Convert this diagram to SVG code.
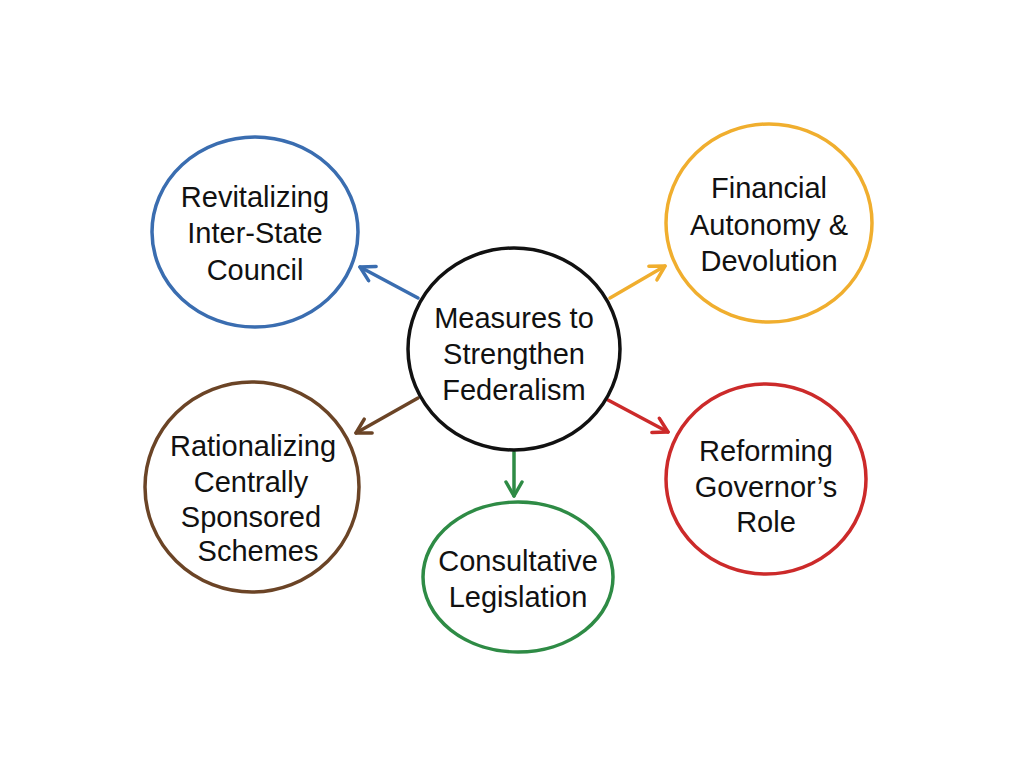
<svg xmlns="http://www.w3.org/2000/svg" width="1024" height="768" viewBox="0 0 1024 768">
<style>
.node{fill:#fff;stroke-width:3.5}
.lbl{font-family:"Liberation Sans","DejaVu Sans",sans-serif;font-size:29px;fill:#111;text-anchor:middle}
.conn{fill:none;stroke-width:3.5;stroke-linecap:round}
</style>
<defs>
<marker id="mB" viewBox="0 0 20 20" refX="17" refY="10" markerWidth="20" markerHeight="20" markerUnits="userSpaceOnUse" orient="auto"><path d="M3,2 L17,10 L3,18" fill="none" stroke="#3a6db0" stroke-width="3.5" stroke-linecap="round" stroke-linejoin="round"/></marker>
<marker id="mO" viewBox="0 0 20 20" refX="17" refY="10" markerWidth="20" markerHeight="20" markerUnits="userSpaceOnUse" orient="auto"><path d="M3,2 L17,10 L3,18" fill="none" stroke="#f0ae2e" stroke-width="3.5" stroke-linecap="round" stroke-linejoin="round"/></marker>
<marker id="mBr" viewBox="0 0 20 20" refX="17" refY="10" markerWidth="20" markerHeight="20" markerUnits="userSpaceOnUse" orient="auto"><path d="M3,2 L17,10 L3,18" fill="none" stroke="#6b4426" stroke-width="3.5" stroke-linecap="round" stroke-linejoin="round"/></marker>
<marker id="mR" viewBox="0 0 20 20" refX="17" refY="10" markerWidth="20" markerHeight="20" markerUnits="userSpaceOnUse" orient="auto"><path d="M3,2 L17,10 L3,18" fill="none" stroke="#cc2a2a" stroke-width="3.5" stroke-linecap="round" stroke-linejoin="round"/></marker>
<marker id="mG" viewBox="0 0 20 20" refX="17" refY="10" markerWidth="20" markerHeight="20" markerUnits="userSpaceOnUse" orient="auto"><path d="M3,2 L17,10 L3,18" fill="none" stroke="#2e8b45" stroke-width="3.5" stroke-linecap="round" stroke-linejoin="round"/></marker>
</defs>
<rect width="1024" height="768" fill="#fff"/>
<g id="connectors">
<line class="conn" x1="418" y1="298" x2="360" y2="267" stroke="#3a6db0" marker-end="url(#mB)"/>
<line class="conn" x1="610" y1="298" x2="665" y2="266" stroke="#f0ae2e" marker-end="url(#mO)"/>
<line class="conn" x1="418" y1="398" x2="356" y2="433" stroke="#6b4426" marker-end="url(#mBr)"/>
<line class="conn" x1="608" y1="400" x2="668" y2="432" stroke="#cc2a2a" marker-end="url(#mR)"/>
<line class="conn" x1="514" y1="452" x2="514" y2="496" stroke="#2e8b45" marker-end="url(#mG)"/>
</g>
<g id="center">
<ellipse class="node" cx="514" cy="349" rx="106" ry="101" stroke="#111"/>
<text class="lbl" x="514" y="328">Measures to</text>
<text class="lbl" x="514" y="364">Strengthen</text>
<text class="lbl" x="514" y="400">Federalism</text>
</g>
<g id="interstate">
<ellipse class="node" cx="255" cy="232" rx="103" ry="95" stroke="#3a6db0"/>
<text class="lbl" x="255" y="207">Revitalizing</text>
<text class="lbl" x="255" y="243">Inter-State</text>
<text class="lbl" x="255" y="280">Council</text>
</g>
<g id="financial">
<ellipse class="node" cx="769" cy="223" rx="103" ry="99" stroke="#f0ae2e"/>
<text class="lbl" x="769" y="198">Financial</text>
<text class="lbl" x="769" y="235">Autonomy &amp;</text>
<text class="lbl" x="769" y="271">Devolution</text>
</g>
<g id="css">
<ellipse class="node" cx="252" cy="487" rx="107" ry="105" stroke="#6b4426"/>
<text class="lbl" x="253" y="456">Rationalizing</text>
<text class="lbl" x="251" y="492">Centrally</text>
<text class="lbl" x="251" y="527">Sponsored</text>
<text class="lbl" x="258" y="561">Schemes</text>
</g>
<g id="governor">
<ellipse class="node" cx="766" cy="479" rx="100" ry="95" stroke="#cc2a2a"/>
<text class="lbl" x="766" y="461">Reforming</text>
<text class="lbl" x="766" y="497">Governor’s</text>
<text class="lbl" x="766" y="532">Role</text>
</g>
<g id="consultative">
<ellipse class="node" cx="518" cy="577" rx="95" ry="75" stroke="#2e8b45"/>
<text class="lbl" x="518" y="571">Consultative</text>
<text class="lbl" x="518" y="607">Legislation</text>
</g>
</svg>
